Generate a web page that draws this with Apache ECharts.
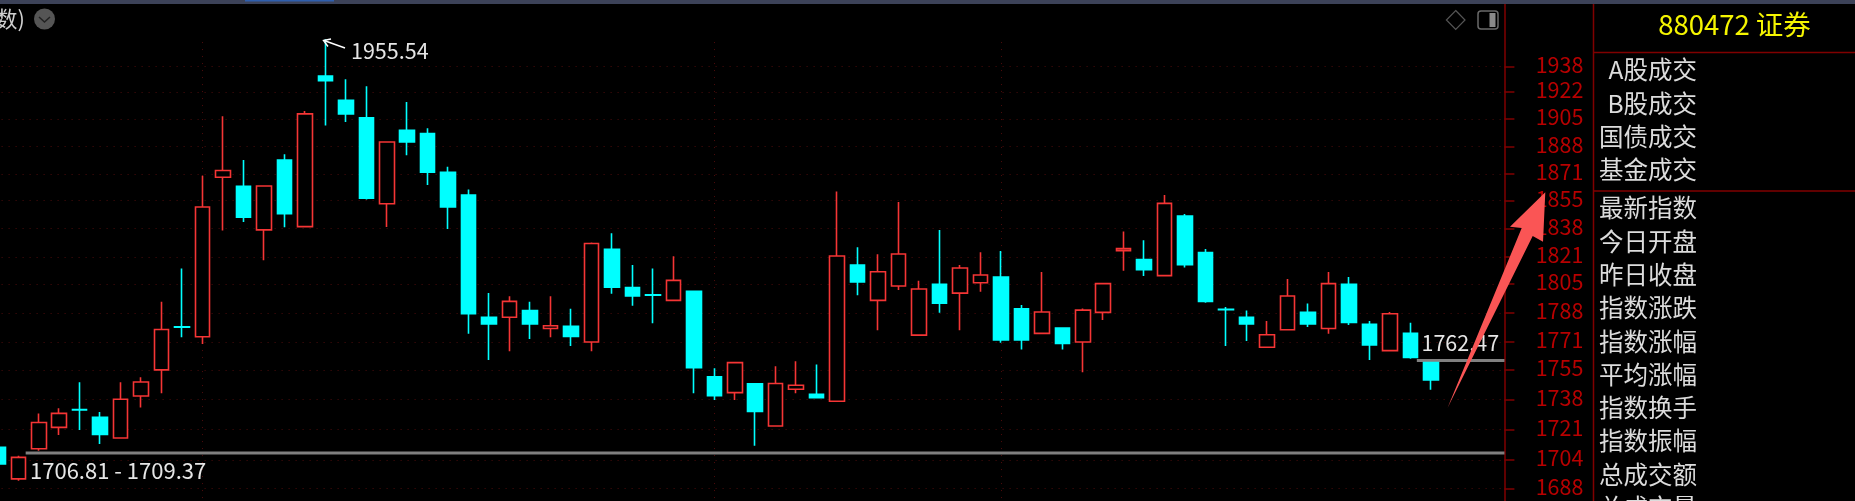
<!DOCTYPE html>
<html>
<head>
<meta charset="utf-8">
<style>html,body{margin:0;padding:0;background:#000}#c{width:1855px;height:501px}</style>
<script src="https://cdn.jsdelivr.net/npm/echarts@6/dist/echarts.min.js"></script>
</head>
<body>
<div id="c"></div>
<script>
var opens = [1711.0,1693.4,1710.2,1722.2,1732.3,1727.9,1716.2,1740.0,1754.9,1779.8,
1774.1,1869.1,1863.6,1837.2,1879.7,1839.2,1932.1,1916.8,1905.8,1853.0,
1898.1,1896.0,1872.1,1858.3,1785.4,1785.4,1789.4,1778.9,1780.1,1771.0,
1825.6,1802.8,1798.6,1795.3,1800.6,1750.9,1741.9,1746.9,1723.0,1743.8,
1741.0,1737.0,1816.2,1795.3,1803.8,1775.0,1804.8,1799.6,1805.7,1809.1,
1790.4,1776.0,1779.1,1771.0,1788.3,1824.8,1819.4,1809.9,1845.6,1823.6,
1790.1,1785.4,1768.0,1778.1,1788.3,1778.9,1804.8,1781.3,1766.0,1776.0,1759.1];
var closes = [1701.7,1705.4,1725.0,1730.1,1732.1,1718.2,1738.1,1748.0,1778.3,1779.6,
1851.0,1873.3,1844.8,1863.8,1847.0,1908.3,1929.2,1908.3,1856.4,1890.8,
1890.8,1872.3,1851.0,1787.5,1781.5,1794.7,1781.5,1780.5,1774.3,1829.0,
1803.0,1797.9,1798.4,1807.1,1756.2,1740.2,1759.1,1731.2,1747.1,1746.1,
1739.0,1821.6,1806.1,1812.2,1822.8,1802.0,1793.7,1814.4,1810.3,1772.2,
1772.2,1788.5,1770.2,1789.6,1805.2,1826.0,1813.4,1853.2,1816.4,1794.7,
1789.9,1781.5,1775.2,1797.9,1781.5,1805.2,1782.4,1769.3,1787.5,1762.1,1749.2];
var lows = [1701.7,1692.4,1709.1,1717.9,1720.7,1712.8,1715.8,1733.5,1741.5,1773.7,
1769.9,1836.8,1842.0,1819.0,1838.8,1839.2,1901.0,1903.3,1855.6,1839.0,
1882.6,1864.4,1837.8,1775.8,1760.6,1765.6,1772.7,1773.7,1768.7,1765.6,
1799.2,1792.2,1781.9,1795.3,1741.5,1737.7,1737.7,1711.9,1723.0,1741.5,
1738.5,1737.0,1798.3,1777.8,1801.4,1775.0,1788.1,1777.8,1800.4,1770.6,
1766.6,1776.0,1766.6,1753.5,1783.8,1812.8,1809.7,1809.9,1814.8,1793.9,
1768.7,1771.6,1768.0,1778.1,1779.7,1775.8,1780.9,1760.6,1766.0,1761.4,1743.5];
var highs = [1711.0,1706.3,1730.0,1733.0,1747.8,1730.9,1747.8,1750.7,1794.5,1814.2,
1870.1,1906.8,1879.7,1864.2,1883.2,1910.1,1955.54,1930.0,1925.6,1891.2,
1915.8,1899.3,1875.6,1861.7,1799.6,1797.7,1794.5,1797.7,1790.4,1829.6,
1835.2,1816.2,1814.2,1821.4,1800.6,1755.8,1759.5,1746.9,1757.0,1759.9,
1758.0,1860.5,1826.8,1822.6,1854.0,1806.9,1837.2,1816.2,1823.8,1824.6,
1792.6,1812.0,1779.1,1790.6,1805.4,1836.2,1831.0,1858.3,1846.8,1825.8,
1791.4,1789.4,1783.2,1807.9,1793.5,1812.0,1809.1,1783.2,1788.5,1782.2,1759.1];
var tickLabels = [1938,1922,1905,1888,1871,1855,1838,1821,1805,1788,1771,1755,1738,1721,1704,1688];
var separatorSlots = [10,35,49];
var gapLevels = [1707.8,1760.3];
var gapStartSlots = [1.86,69.82];
var highLabel = '1955.54';
var gapLabels = ['1706.81 - 1709.37','1762.47'];
var quoteTitle = '880472 证券';
var tradeRows = ['A股成交','B股成交','国债成交','基金成交'];
var quoteRows = ['最新指数','今日开盘','昨日收盘','指数涨跌','指数涨幅','平均涨幅','指数换手','指数振幅','总成交额','总成交量'];

var SLOTS = 74, Y_MIN = 1681.2, Y_MAX = 1978.2, SEP_TOP = 1953.7;
var FONT = '"Noto Sans CJK SC","Noto Sans",sans-serif';
var slots = []; for (var n = 0; n < SLOTS; n++) slots.push(String(n));
var candles = opens.map(function (o, i) { return [o, closes[i], lows[i], highs[i]]; });

var dotted = {color:'#4d0c0c', width:1, type:[1,6]};
var levelLines = tickLabels.map(function (v) { return {yAxis:v}; });
var sepLines = separatorSlots.map(function (s) {
  return [{coord:[String(s), SEP_TOP]},{coord:[String(s), Y_MIN]}];
});

var series = [{
  type:'candlestick', name:'证券', data:candles, barWidth:15, z:3, silent:true,
  itemStyle:{color:'#000', color0:'#00ffff', borderColor:'#f53535', borderColor0:'#00ffff', borderWidth:1.6},
  markLine:{silent:true, symbol:'none', z:1, label:{show:false}, lineStyle:dotted, animation:false,
    data:levelLines.concat(sepLines)}
}];
gapLevels.forEach(function (level, i) {
  series.push({type:'line', xAxisIndex:1, yAxisIndex:0, silent:true, symbol:'none', z:2, clip:false,
    lineStyle:{color:'#808080', width:3}, data:[[gapStartSlots[i], level],[SLOTS + 0.1, level]]});
});

function txt(x, y, text, size, fill, align) {
  return {type:'text', silent:true, z:10, x:x, y:y,
    style:{text:text, fontSize:size, fontFamily:FONT, fill:fill, align:align||'left', verticalAlign:'middle'}};
}
var g = [];
g.push({type:'rect', silent:true, z:8, shape:{x:0,y:0,width:1855,height:4}, style:{fill:'#3c4258'}});
g.push({type:'rect', silent:true, z:9, shape:{x:245,y:0,width:89,height:1.5}, style:{fill:'#2f5fae'}});
var frame = {stroke:'#800000', lineWidth:1.5};
g.push({type:'line', silent:true, z:8, shape:{x1:1593.5,y1:4,x2:1593.5,y2:501}, style:frame});
g.push({type:'line', silent:true, z:8, shape:{x1:1594,y1:52.5,x2:1855,y2:52.5}, style:frame});
g.push({type:'line', silent:true, z:8, shape:{x1:1594,y1:191,x2:1855,y2:191}, style:frame});
g.push(txt(25, 19, '数)', 22, '#cfcfcf', 'right'));
g.push({type:'circle', silent:true, z:9, shape:{cx:44.5,cy:19,r:10.5}, style:{fill:'#555'}});
g.push({type:'polyline', silent:true, z:10, shape:{points:[[39,17],[44.5,22],[50,17]]}, style:{stroke:'#222',fill:null,lineWidth:1.5}});
g.push({type:'polygon', silent:true, z:9, shape:{points:[[1455.7,10.5],[1465,20],[1455.7,29.5],[1446.4,20]]}, style:{stroke:'#555',fill:null,lineWidth:1.2}});
g.push({type:'rect', silent:true, z:9, shape:{x:1478,y:11,width:20,height:18,r:3}, style:{stroke:'#6a6a6a',fill:null,lineWidth:1.5}});
g.push({type:'rect', silent:true, z:9, shape:{x:1489.5,y:13,width:6,height:14}, style:{fill:'#8a8a8a'}});
g.push({type:'polyline', silent:true, z:10, shape:{points:[[345,48],[324,40.5]]}, style:{stroke:'#fff',fill:null,lineWidth:1.4}});
g.push({type:'polyline', silent:true, z:10, shape:{points:[[331,39],[323.5,40.5],[328,46.5]]}, style:{stroke:'#fff',fill:null,lineWidth:1.4}});
g.push(txt(351, 51, highLabel, 21.5, '#e6e6e6'));
g.push(txt(30, 471, gapLabels[0], 22, '#e6e6e6'));
g.push(txt(1421.5, 343, gapLabels[1], 21.5, '#e6e6e6'));
g.push(txt(1734.5, 25, quoteTitle, 27.5, '#f5f500', 'center'));
tradeRows.forEach(function (t, i) { g.push(txt(1697, 70 + i * 33.3, t, 24.5, '#dcdcdc', 'right')); });
quoteRows.forEach(function (t, i) { g.push(txt(1697, 208 + i * 33.3, t, 24.5, '#dcdcdc', 'right')); });
g.push({type:'polygon', silent:true, z:20,
  shape:{points:[[1545.3,192.3],[1543,241.7],[1532.7,236],[1447.5,408],[1521.7,228],[1510,226.7]]},
  style:{fill:'#fa5555'}});

var chart = echarts.init(document.getElementById('c'), null, {renderer:'canvas'});
chart.setOption({
  animation:false, backgroundColor:'#000',
  grid:{left:-12.4, top:4, width:1514.8, height:497, outerBoundsMode:'none'},
  xAxis:[
    {type:'category', data:slots, boundaryGap:true, show:false},
    {type:'value', min:0, max:SLOTS, show:false}
  ],
  yAxis:[{
    type:'log', logBase:10, min:Y_MIN, max:Y_MAX, position:'right', offset:2, scale:true,
    axisLine:{show:true, onZero:false, lineStyle:{color:'#800000', width:1.5}},
    axisTick:{show:true, length:10, inside:false, lineStyle:{color:'#800000', width:1.5}, customValues:tickLabels},
    axisLabel:{show:true, color:'#b80000', fontSize:21.5, fontFamily:FONT, align:'right', margin:79, verticalAlign:'bottom', lineHeight:4, customValues:tickLabels,
      formatter:function (v) { return String(Math.round(v)); }},
    splitLine:{show:false}, minorTick:{show:false}, minorSplitLine:{show:false}
  }],
  series:series,
  graphic:{elements:g}
});
</script>
</body>
</html>
